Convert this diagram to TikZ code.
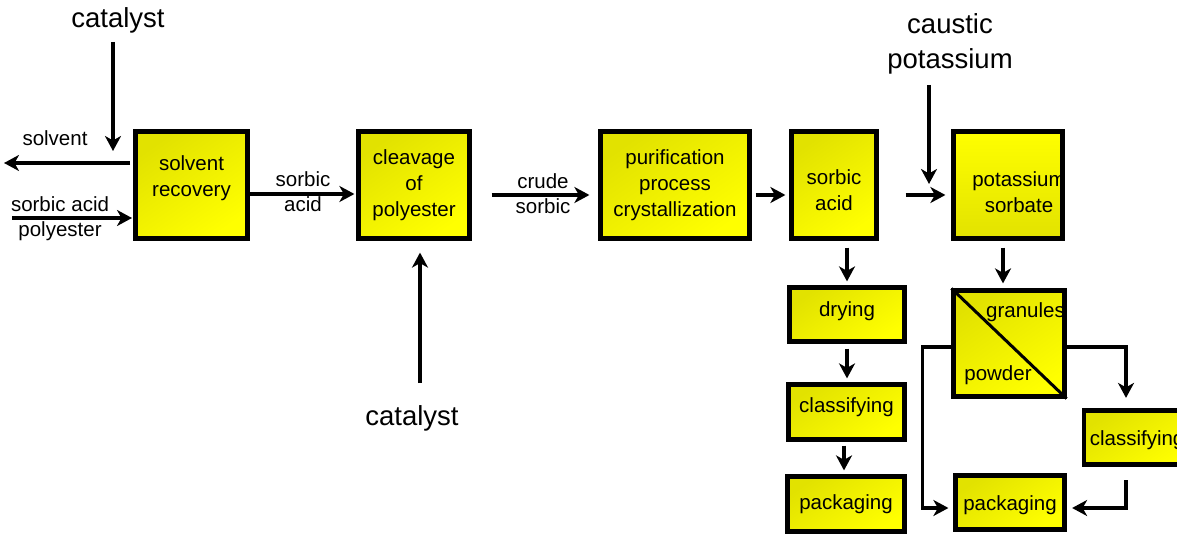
\documentclass[tikz,border=0pt]{standalone}
\usepackage{fontspec}
\setmainfont{Liberation Sans}
\usetikzlibrary{arrows.meta}
\definecolor{ydark}{HTML}{E2E200}
\definecolor{ylight}{HTML}{FFFF00}
\begin{document}
\begin{tikzpicture}[x=1pt,y=-1pt,
  box/.style={draw=black, line width=4.2pt, top color=ydark, bottom color=ylight,
    shading angle=35, inner sep=0pt, align=center,
    font=\fontsize{20.5}{26}\selectfont},
  boxinv/.style={box, top color=ylight, bottom color=ydark},
  lbl/.style={inner sep=0pt, align=center, font=\fontsize{20.5}{25}\selectfont},
  biglbl/.style={inner sep=0pt, align=center, font=\fontsize{27.5}{35}\selectfont},
  tip/.style={-{Stealth[length=15pt, width=16pt, inset=4.5pt]}},
  flow/.style={line width=3.2pt, tip},
  pipe/.style={line width=3.2pt}]
\useasboundingbox (0,0) rectangle (1177,537);
\clip (0,0) rectangle (1177,537);

% main line of process units
\node[box, minimum width=112, minimum height=107, text depth=18pt] (rec) at (191.5,185) {solvent\\recovery};
\node[box, minimum width=111, minimum height=107] (clv) at (414,185) {cleavage\\of\\polyester};
\node[box, minimum width=149, minimum height=107] (pur) at (675,185) {purification\\process\\crystallization};
\node[box, minimum width=85, minimum height=107, text height=51pt] (sa) at (834,185) {sorbic\\acid};
\node[boxinv, minimum width=109, minimum height=107] (ps) at (1008,185) {};
\node[lbl, font=\fontsize{20.5}{25.5}\selectfont] (pstxt) at (1019,192) {potassium\\sorbate};

% sorbic acid finishing line
\node[box, minimum width=115, minimum height=54, text depth=10pt] (dry) at (847,314.5) {drying};
\node[box, minimum width=116, minimum height=55, text depth=14pt] (cl1) at (846.5,412) {classifying};
\node[box, minimum width=117, minimum height=55] (pk1) at (846,504) {packaging};

% potassium sorbate finishing line
\node[box, minimum width=111, minimum height=106] (gp) at (1009,343.5) {};
\draw[line width=3pt] (gp.north west) -- (gp.south east);
\node[lbl, anchor=east] (gran) at (1065,312) {granules};
\node[lbl] (pow) at (998,375) {powder};
\node[box, minimum width=110, minimum height=54, anchor=west, text height=21pt] (cl2) at (1082,437.5) {\hspace*{-4pt}classifying};
\node[box, minimum width=109, minimum height=54, text height=21pt] (pk2) at (1010,502.5) {packaging};

% feed and product labels
\node[biglbl] (cat1) at (118,20) {catalyst};
\node[biglbl] (cat2) at (412,418) {catalyst};
\node[biglbl] (kOH) at (950,44) {caustic\\potassium};
\node[lbl] (solv) at (55,138) {solvent};
\node[lbl] (feed) at (60,219) {sorbic acid\\polyester};
\node[lbl] (l12) at (303,191.5) {sorbic\\acid};
\node[lbl] (l23) at (543,194) {crude\\sorbic};

% free ends of the feed and product streams
\coordinate (catA) at (113,42);
\coordinate (catB) at (113,151);
\coordinate (solvA) at (130,163);
\coordinate (solvB) at (4,163);
\coordinate (feedA) at (12,218);
\coordinate (feedB) at (132,218);
\coordinate (cat2A) at (420,383);
\coordinate (kOHA) at (929,85);
\coordinate (kOHB) at (929,184);

% streams
\draw[flow] (catA) -- (catB);
\draw[flow] (solvA) -- (solvB);
\draw[flow] (feedA) -- (feedB);
\draw[flow] ([shift={(0,9)}]rec.east) -- ([shift={(-2,9)}]clv.west);
\draw[flow] (cat2A) -- ([shift={(6,12)}]clv.south);
\draw[flow] ([shift={(20,10)}]clv.east) -- ([shift={(-9,10)}]pur.west);
\draw[flow] ([shift={(4,10)}]pur.east) -- ([shift={(-4,10)}]sa.west);
\draw[flow] ([shift={(27,10)}]sa.east) -- ([shift={(-6,10)}]ps.west);
\draw[flow] (kOHA) -- (kOHB);

\draw[flow] ([shift={(13,7)}]sa.south) -- ([shift={(0,-4)}]dry.north);
\draw[flow] ([shift={(0,5)}]dry.south) -- ([shift={(0.5,-4)}]cl1.north);
\draw[flow] ([shift={(-2.5,4)}]cl1.south) -- ([shift={(-2,-4)}]pk1.north);

\draw[flow] ([shift={(-5,7)}]ps.south) -- ([shift={(-6,-5)}]gp.north);
\draw[pipe, tip]
  ([shift={(0,3.5)}]gp.west) -- ++(-29,0) |- ([shift={(-5,5.5)}]pk2.west);
\draw[pipe, tip]
  ([shift={(0,3.5)}]gp.east) -| ([shift={(44,-10.5)}]cl2.north west);
\draw[pipe, tip]
  ([shift={(44,13.5)}]cl2.south west) |- ([shift={(5.5,5.5)}]pk2.east);
\end{tikzpicture}
\end{document}
